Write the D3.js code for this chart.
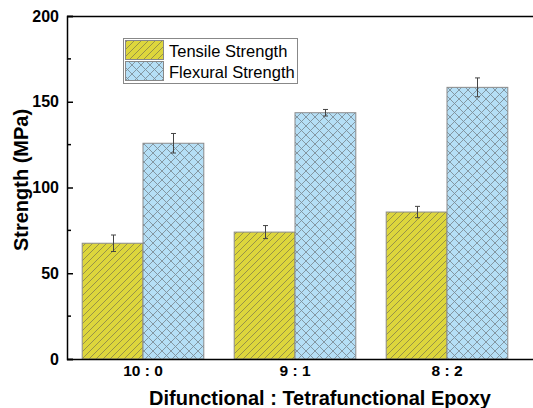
<!DOCTYPE html>
<html>
<head>
<meta charset="utf-8">
<script src="https://cdn.jsdelivr.net/npm/d3@7"></script>
<style>
  html, body { margin: 0; padding: 0; background: #fff; }
  svg { display: block; font-family: Arial, "Liberation Sans", sans-serif; }
</style>
</head>
<body>
<svg id="chart" width="533" height="408"></svg>
<script>
// Resin ratio groups and measured strengths (MPa)
const categories = ["10 : 0", "9 : 1", "8 : 2"];
const seriesNames = ["Tensile Strength", "Flexural Strength"];
const tensile = [67.5, 74.0, 85.7];
const tensileErr = [4.8, 3.8, 3.3];
const flexural = [125.8, 143.6, 158.4];
const flexuralErr = [5.7, 1.9, 5.5];
const yTicks = [0, 50, 100, 150, 200];

(function draw() {
const svg = d3.select("#chart");
const W = 533;
const mLeft = 67, mTop = 16, mBottom = 359, plotRight = 523;
const FONT = "Arial, 'Liberation Sans', sans-serif";

const x = d3.scaleBand().domain(categories).range([mLeft, plotRight])
  .paddingInner(0.2).paddingOuter(0.1);
const x1 = d3.scaleBand().domain(seriesNames).range([0, x.bandwidth()]);
const y = d3.scaleLinear().domain([0, 200]).range([mBottom, mTop]);

// Hatch patterns
const defs = svg.append("defs");
const pDiag = defs.append("pattern").attr("id", "diag")
  .attr("patternUnits", "userSpaceOnUse").attr("width", 7).attr("height", 7);
pDiag.append("rect").attr("width", 7).attr("height", 7).attr("fill", "#ddd63c");
pDiag.append("path").attr("d", "M-1,1 L1,-1 M0,7 L7,0 M6,8 L8,6")
  .attr("stroke", "#8f8a4a").attr("stroke-width", 0.9);

const pCross = defs.append("pattern").attr("id", "cross")
  .attr("patternUnits", "userSpaceOnUse").attr("width", 9).attr("height", 9);
pCross.append("rect").attr("width", 9).attr("height", 9).attr("fill", "#b5dff6");
pCross.append("path").attr("d", "M0,0 L9,9 M0,9 L9,0")
  .attr("stroke", "#7f8f99").attr("stroke-width", 0.9);

const fills = ["url(#diag)", "url(#cross)"];
const values = [tensile, flexural];
const errs = [tensileErr, flexuralErr];

// Bars
seriesNames.forEach((s, si) => {
  svg.append("g").selectAll("rect").data(categories).join("rect")
    .attr("x", c => x(c) + x1(s))
    .attr("y", (c, i) => y(values[si][i]))
    .attr("width", x1.bandwidth())
    .attr("height", (c, i) => y(0) - y(values[si][i]))
    .attr("fill", fills[si])
    .attr("stroke", "#8a8a8a").attr("stroke-width", 1);
});

// Error bars
seriesNames.forEach((s, si) => {
  const g = svg.append("g").attr("stroke", "#444").attr("stroke-width", 1);
  categories.forEach((c, i) => {
    const cx = Math.round(x(c) + x1(s) + x1.bandwidth() / 2) + 0.5;
    const v = values[si][i], e = errs[si][i];
    g.append("line").attr("x1", cx).attr("x2", cx).attr("y1", y(v + e)).attr("y2", y(v - e));
    g.append("line").attr("x1", cx - 2.5).attr("x2", cx + 2.5).attr("y1", y(v + e)).attr("y2", y(v + e));
    g.append("line").attr("x1", cx - 2.5).attr("x2", cx + 2.5).attr("y1", y(v - e)).attr("y2", y(v - e));
  });
});

// Frame: top and bottom lines run to the edge
svg.append("line").attr("x1", mLeft).attr("x2", W).attr("y1", mTop + 0.5).attr("y2", mTop + 0.5)
  .attr("stroke", "#000").attr("stroke-width", 1.5);
svg.append("line").attr("x1", mLeft).attr("x2", W).attr("y1", mBottom + 0.5).attr("y2", mBottom + 0.5)
  .attr("stroke", "#000").attr("stroke-width", 1.5);

// Y axis with inward ticks
const yAxis = d3.axisLeft(y).tickValues(yTicks).tickSize(-6).tickPadding(8).tickFormat(d3.format("d"));
const gy = svg.append("g").attr("transform", `translate(${mLeft},0)`).call(yAxis);
gy.select(".domain").attr("stroke", "#000").attr("stroke-width", 1.5);
gy.selectAll(".tick line").attr("stroke", "#000").attr("stroke-width", 1.5);
gy.selectAll(".tick text").attr("font-size", 16).attr("font-weight", "bold")
  .attr("fill", "#000").attr("font-family", FONT);
// Minor ticks
const minor = d3.range(25, 200, 50);
svg.append("g").selectAll("line").data(minor).join("line")
  .attr("x1", mLeft).attr("x2", mLeft + 4)
  .attr("y1", d => y(d)).attr("y2", d => y(d))
  .attr("stroke", "#000").attr("stroke-width", 1.5);

// X axis labels
const xAxis = d3.axisBottom(x).tickSize(0).tickPadding(6);
const gx = svg.append("g").attr("transform", `translate(0,${mBottom})`).call(xAxis);
gx.select(".domain").remove();
gx.selectAll(".tick text").attr("font-size", 15.5).attr("font-weight", "bold")
  .attr("fill", "#000").attr("font-family", FONT);

// Axis titles
svg.append("text").attr("x", 320).attr("y", 405).attr("text-anchor", "middle")
  .attr("font-size", 20).attr("font-weight", "bold").text("Difunctional : Tetrafunctional Epoxy");
svg.append("text").attr("transform", `translate(28,180) rotate(-90)`)
  .attr("text-anchor", "middle").attr("font-size", 20).attr("font-weight", "bold")
  .text("Strength (MPa)");

// Legend
const lg = svg.append("g").attr("transform", "translate(123,38)");
lg.append("rect").attr("x", 0.5).attr("y", 0.5).attr("width", 174).attr("height", 45)
  .attr("fill", "#fff").attr("stroke", "#888").attr("stroke-width", 1);
seriesNames.forEach((s, i) => {
  lg.append("rect").attr("x", 2.5).attr("y", 2.5 + i * 21).attr("width", 38).attr("height", 19)
    .attr("fill", fills[i]).attr("stroke", "#888").attr("stroke-width", 1);
  lg.append("text").attr("x", 46).attr("y", 18.5 + i * 21).attr("font-size", 16.5)
    .attr("fill", "#000").text(s);
});
})();
</script>
</body>
</html>
